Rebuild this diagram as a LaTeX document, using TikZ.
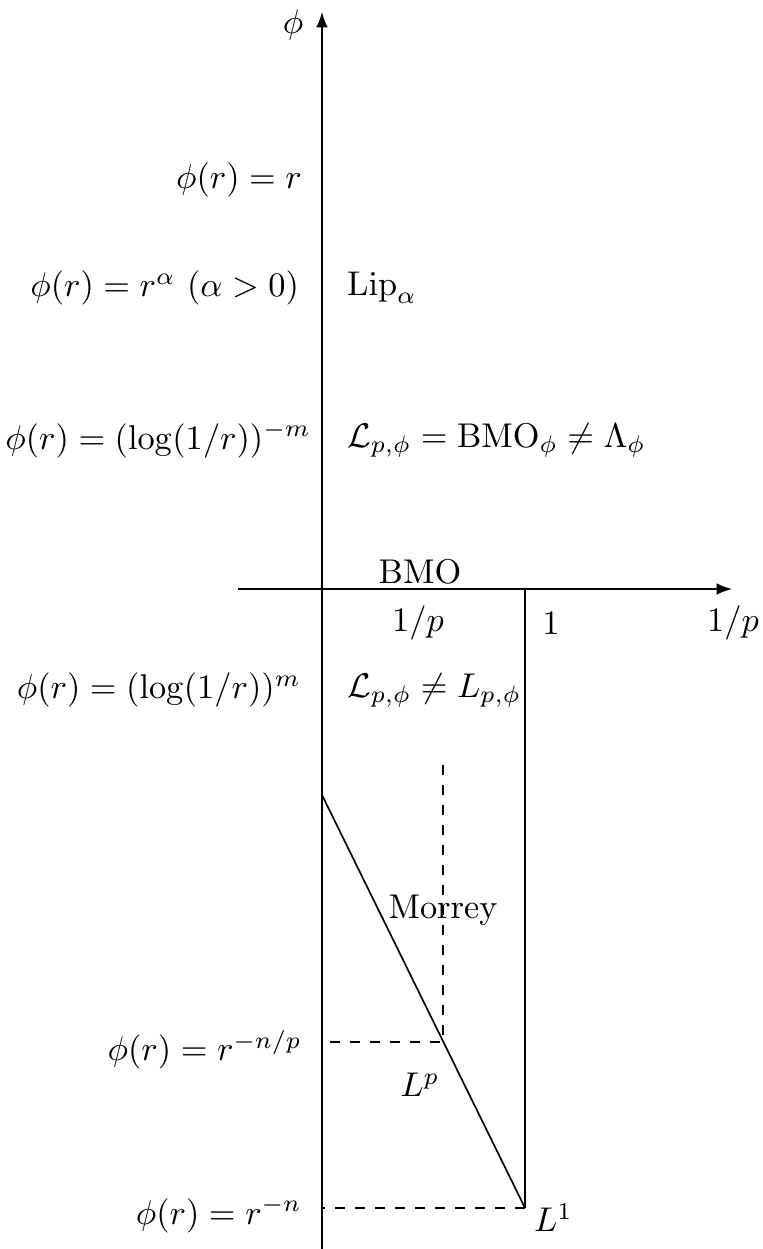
\documentclass[tikz,border=0pt]{standalone}
\usepackage{amsmath}
\begin{document}
\begin{tikzpicture}[x=30pt,y=30pt,every node/.style={inner sep=1pt,scale=1.03}]
% Campanato-type spaces L_{p,phi}: phi on the vertical axis, 1/p on the horizontal one
\useasboundingbox (-3.22,-6.60) rectangle (4.40,5.89);
\coordinate (O) at (0,0);
\coordinate (xmin) at (-0.84,0);
\coordinate (xmax) at (4.10,0);
\coordinate (ymin) at (0,-6.62);
\coordinate (ymax) at (0,5.77);
\coordinate (one) at (2.03,0);
\coordinate (Lone) at (2.03,-6.19);
\coordinate (diagtop) at (0,-2.06);
\coordinate (Lppt) at (1.21,-4.53);
\coordinate (mtop) at (1.21,-1.76);
\coordinate (lpy) at (0,-4.53);
\coordinate (lony) at (0,-6.19);
\draw[-latex,line width=0.6pt] (xmin)--(xmax);
\draw[-latex,line width=0.6pt] (ymin)--(ymax);
\draw[line width=0.5pt] (one)--(Lone);
\draw[line width=0.5pt] (diagtop)--(Lone);
\draw[dashed,line width=0.5pt] (mtop)--(Lppt)--(lpy);
\draw[dashed,line width=0.5pt] (Lone)--(lony);
\node (phi) at (-0.29,5.64) {$\phi$};
\node[anchor=east] (rone) at (-0.16,4.09) {$\phi(r)=r$};
\node[anchor=east] (ralpha) at (-0.19,3.01) {$\phi(r)=r^\alpha\ (\alpha>0)$};
\node[anchor=west] (lip) at (0.21,3.01) {$\mathrm{Lip}_\alpha$};
\node[anchor=east] (logneg) at (-0.07,1.49) {$\phi(r)=(\log(1/r))^{-m}$};
\node[anchor=west] (bmophi) at (0.21,1.49) {$\mathcal{L}_{p,\phi}=\mathrm{BMO}_\phi\neq\Lambda_\phi$};
\node (bmo) at (0.98,0.17) {BMO};
\node (invp) at (0.96,-0.34) {$1/p$};
\node (unit) at (2.29,-0.34) {$1$};
\node (xlabel) at (4.11,-0.34) {$1/p$};
\node[anchor=east] (logpos) at (-0.17,-1.01) {$\phi(r)=(\log(1/r))^m$};
\node[anchor=west] (neq) at (0.21,-1.01) {$\mathcal{L}_{p,\phi}\neq L_{p,\phi}$};
\node (morrey) at (1.21,-3.21) {Morrey};
\node[anchor=east] (rnp) at (-0.16,-4.61) {$\phi(r)=r^{-n/p}$};
\node (Lp) at (0.98,-4.96) {$L^p$};
\node[anchor=east] (rn) at (-0.16,-6.26) {$\phi(r)=r^{-n}$};
\node[anchor=west] (Lonelab) at (2.08,-6.29) {$L^1$};
\end{tikzpicture}
\end{document}
